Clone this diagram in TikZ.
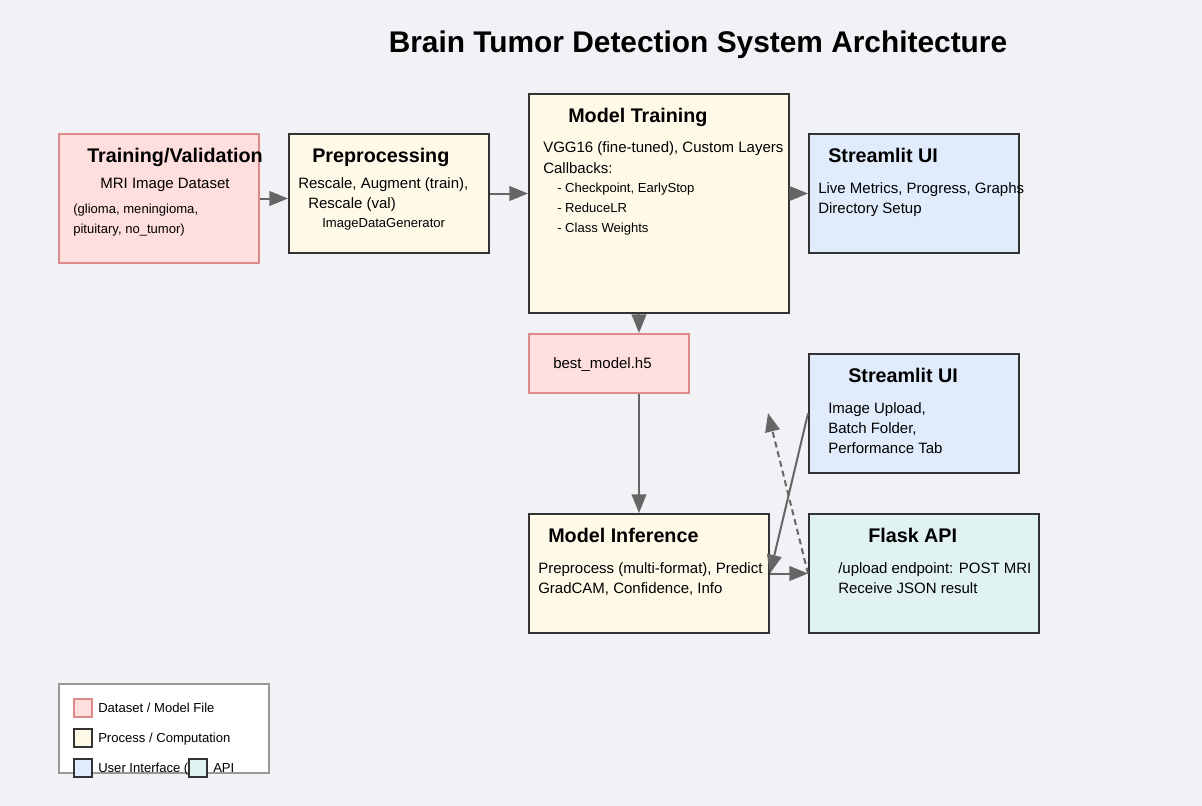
\documentclass[tikz,border=0pt]{standalone}
\usepackage{fontspec}
\setmainfont{Liberation Sans}
\usetikzlibrary{arrows.meta,calc}
\definecolor{bg}{HTML}{F0F2F5}
\definecolor{pinkfill}{HTML}{FFDEDE}
\definecolor{pinkline}{HTML}{DC8A8A}
\definecolor{procfill}{HTML}{FFFAE8}
\definecolor{uifill}{HTML}{E0EBFC}
\definecolor{apifill}{HTML}{E0F2F1}
\definecolor{darkline}{HTML}{333333}
\definecolor{arrowc}{HTML}{666666}
\definecolor{legline}{HTML}{999999}
\begin{document}
\begin{tikzpicture}[x=0.75pt,y=-0.75pt,
  box/.style={draw=darkline, line width=1.5pt, inner sep=0, anchor=north west},
  pinkbox/.style={box, draw=pinkline, fill=pinkfill},
  procbox/.style={box, fill=procfill},
  uibox/.style={box, fill=uifill},
  apibox/.style={box, fill=apifill},
  hd/.style={inner sep=0, anchor=base west, font=\fontsize{14.8}{16}\selectfont\bfseries},
  tx/.style={inner sep=0, anchor=base west, font=\fontsize{11.25}{13}\selectfont},
  sm/.style={inner sep=0, anchor=base west, font=\fontsize{9.8}{11}\selectfont},
  conn/.style={draw=arrowc, line width=1.5pt, -{Triangle[length=14pt,width=11pt]}},
  swatch/.style={box, minimum width=13.5pt, minimum height=13.5pt}
]
\fill[bg] (0,0) rectangle (1202,806);
\useasboundingbox (0,0) rectangle (1202,806);

\node[inner sep=0, anchor=base, font=\fontsize{22.4}{26}\selectfont\bfseries] (title) at (698,53) {Brain Tumor Detection System Architecture};

% boxes
\node[pinkbox, minimum width=150pt, minimum height=96.75pt] (ds) at (58,133) {};
\node[procbox, minimum width=150pt, minimum height=89.25pt] (pp) at (288,133) {};
\node[procbox, minimum width=195pt, minimum height=164.25pt] (mt) at (528,93) {};
\node[uibox, minimum width=157.5pt, minimum height=89.25pt] (su1) at (808,133) {};
\node[pinkbox, minimum width=120pt, minimum height=44.25pt] (bm) at (528,333) {};
\node[uibox, minimum width=157.5pt, minimum height=89.25pt] (su2) at (808,353) {};
\node[procbox, minimum width=180pt, minimum height=89.25pt] (mi) at (528,513) {};
\node[apibox, minimum width=172.5pt, minimum height=89.25pt] (fa) at (808,513) {};

% texts
\node[hd] (dsT) at (87,162.5) {Training/Validation};
\node[tx, anchor=base] (ds1) at (165,188) {MRI Image Dataset};
\node[sm] (ds2) at (73,213) {(glioma, meningioma,};
\node[sm] (ds3) at (73,233) {pituitary, no\_tumor)};

\node[hd] (ppT) at (312,162.5) {Preprocessing};
\node[tx] (pp1) at (298,188) {Rescale, Augment (train),};
\node[tx] (pp2) at (308,208) {Rescale (val)};
\node[sm] (pp3) at (322,227) {ImageDataGenerator};

\node[hd] (mtT) at (568,122.5) {Model Training};
\node[tx] (mt1) at (543,153) {VGG16 (fine-tuned), Custom Layers};
\node[tx] (mt2) at (543,173) {Callbacks:};
\node[sm] (mt3) at (557,192) {- Checkpoint, EarlyStop};
\node[sm] (mt4) at (557,212) {- ReduceLR};
\node[sm] (mt5) at (557,232) {- Class Weights};

\node[hd] (su1T) at (828,162.5) {Streamlit UI};
\node[tx] (su11) at (818,193) {Live Metrics, Progress, Graphs};
\node[tx] (su12) at (818,213) {Directory Setup};

\node[tx] (bmT) at (553,368) {best\_model.h5};

\node[hd] (su2T) at (848,382.5) {Streamlit UI};
\node[tx] (su21) at (828,413) {Image Upload,};
\node[tx] (su22) at (828,433) {Batch Folder,};
\node[tx] (su23) at (828,453) {Performance Tab};

\node[hd] (miT) at (548,542.5) {Model Inference};
\node[tx] (mi1) at (538,573) {Preprocess (multi-format), Predict};
\node[tx] (mi2) at (538,593) {GradCAM, Confidence, Info};

\node[hd] (faT) at (868,542.5) {Flask API};
\node[tx] (fa1) at (838,573) {/upload endpoint: POST MRI};
\node[tx] (fa2) at (838,593) {Receive JSON result};

% connectors
\draw[conn] (ds.east) -- (ds.east -| pp.west);
\draw[conn] (pp.east) -- (pp.east -| mt.west);
\draw[conn] (su1.west -| mt.east) -- (su1.west);
\draw[conn] ([xshift=-15pt]mt.south) -- ([xshift=22.5pt]bm.north);
\draw[conn] ([xshift=22.5pt]bm.south) -- ([xshift=-7.5pt]mi.north);
\draw[conn] (su2.west) -- (mi.east);
\draw[conn] (mi.east) -- (fa.west);
\coordinate (up) at (768,413);
\draw[conn, dash pattern=on 4.5pt off 3pt] (fa.west) -- (up);

% legend
\node[box, draw=legline, fill=white, minimum width=157.5pt, minimum height=66.75pt] (leg) at (58,683) {};
\node[swatch, draw=pinkline, fill=pinkfill] (lg1) at (73,698) {};
\node[sm] (lg1t) at (98,712) {Dataset / Model File};
\node[swatch, fill=procfill] (lg2) at (73,728) {};
\node[sm] (lg2t) at (98,742) {Process / Computation};
\node[swatch, fill=uifill] (lg3) at (73,758) {};
\node[sm] (lg3t) at (98,772) {User Interface (};
\node[swatch, fill=apifill] (lg4) at (188,758) {};
\node[sm] (lg4t) at (213,772) {API};
\end{tikzpicture}
\end{document}
